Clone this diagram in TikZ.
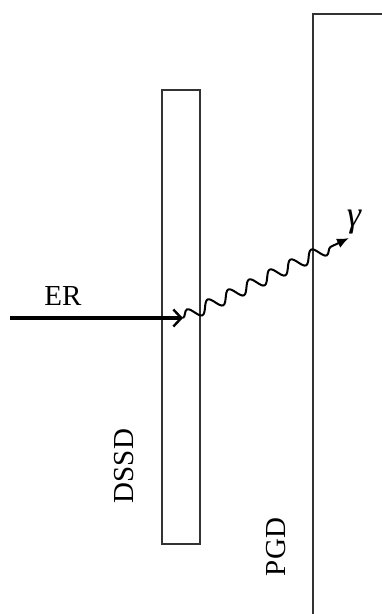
\documentclass[tikz,border=0pt]{standalone}
\usepackage{fontspec}
\setmainfont{Liberation Serif}
\usetikzlibrary{positioning,arrows.meta,decorations.pathmorphing}

\begin{document}
\begin{tikzpicture}[x=1pt,y=-1pt,
  det/.style={draw=black!80,line width=1.3pt},
  lab/.style={font=\fontsize{29}{30}\selectfont,inner sep=0pt},
  beam/.style={line width=3.2pt,-{Straight Barb[length=8pt,width=17pt,line width=2.4pt]}},
  photon/.style={line width=2pt,-{Latex[length=12pt,width=10pt]},decorate,
    decoration={snake,segment length=23pt,amplitude=6pt,post length=17pt}}]
\useasboundingbox (0,0) rectangle (382,614);
% DSSD: thin strip detector
\node[det,minimum width=38pt,minimum height=454pt,inner sep=0pt] (dssd) at (181,317) {};
% PGD: only left and top edges in view
\coordinate (pgdbot) at (313,614);
\coordinate (pgdtop) at (313,14);
\coordinate (pgdright) at (382,14);
\draw[det] (pgdbot) -- (pgdtop) -- (pgdright);
% beam in, gamma out
\coordinate (erstart) at (10,318);
\coordinate (hit) at (183,318);
\coordinate (gend) at (349,238);
\draw[beam] (erstart) -- (hit);
\draw[photon] (hit) -- (gend);
% labels
\node[lab] (erlab) at (63,296) {ER};
\node[lab,font=\fontsize{36}{38}\selectfont] (glab) at (354,222) {\itshape γ};
\node[lab,rotate=90] (dssdlab) at (124,466) {DSSD};
\node[lab,rotate=90] (pgdlab) at (276,547) {PGD};
\end{tikzpicture}
\end{document}
